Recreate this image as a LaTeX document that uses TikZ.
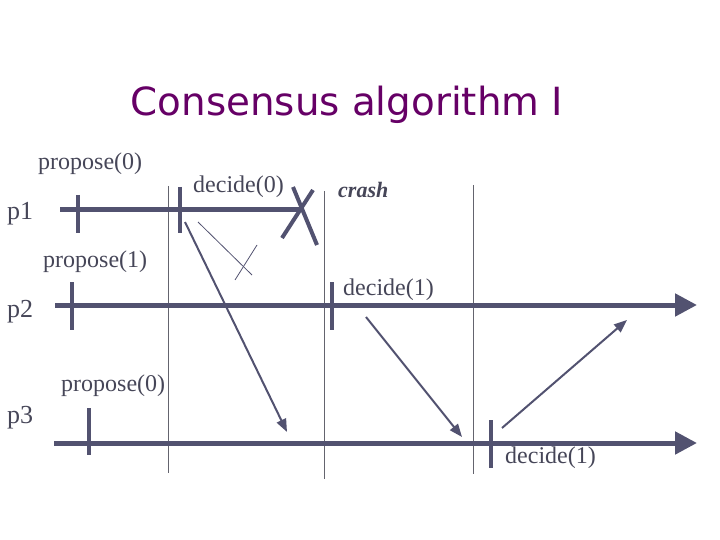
\documentclass[tikz,border=0pt]{standalone}
\usepackage{fontspec}
\setmainfont{Liberation Serif}
\newfontfamily\titlefont{DejaVu Sans}
\usetikzlibrary{arrows.meta}
\definecolor{linecol}{RGB}{82,82,112}
\definecolor{textcol}{RGB}{70,70,88}
\definecolor{gridcol}{RGB}{100,100,110}
\definecolor{titlecol}{RGB}{102,0,102}

\begin{document}
\begin{tikzpicture}[x=1pt, y=-1pt, font=\fontsize{24}{28}\selectfont, text=textcol,
  lbl/.style={anchor=base west, inner sep=0pt},
  proclbl/.style={lbl, font=\fontsize{26}{30}\selectfont},
  procline/.style={linecol, line width=5pt},
  tickmark/.style={linecol, line width=4pt},
  round/.style={gridcol, line width=0.8pt},
  msgline/.style={linecol, line width=2pt, -{Triangle[length=13pt,width=10pt]}},
  lostline/.style={linecol, line width=0.8pt}]
\useasboundingbox (0,0) rectangle (720,540);
\node[anchor=base, inner sep=0pt, text=titlecol, font=\titlefont\fontsize{38.8}{42}\selectfont]
  (title) at (347,116) {Consensus algorithm I};
% round boundaries
\foreach \x/\ya/\yb in {168/186/473, 324/191/479, 473/185/474}
  \draw[round] (\x,\ya) -- (\x,\yb);
% process lines
\coordinate (p1s) at (60,210);  \coordinate (crash) at (303,210);
\coordinate (p2s) at (55,305);  \coordinate (p2e) at (697,305);
\coordinate (p3s) at (54,443);  \coordinate (p3e) at (697,443);
\draw[procline] (p1s) -- (crash);
\draw[procline, -{Triangle[length=22pt,width=22pt]}] (p2s) -- (p2e);
\draw[procline, -{Triangle[length=22pt,width=22pt]}] (p3s) -- (p3e);
% events
\foreach \name/\x/\ya/\yb in {pr1/78/195/233, dc1/180/187/233, pr2/72/282/330,
    dc2/332/282/330, pr3/89/408/455, dc3/491/420/468} {
  \coordinate (\name t) at (\x,\ya);
  \coordinate (\name b) at (\x,\yb);
  \draw[tickmark] (\name t) -- (\name b);
}
% crash of p1
\coordinate (xa) at (293,187); \coordinate (xb) at (317,245);
\coordinate (xc) at (282,238); \coordinate (xd) at (313,190);
\draw[linecol, line width=4pt] (xa) -- (xb);
\draw[linecol, line width=4pt] (xc) -- (xd);
% labels
\node[proclbl] (p1) at (7,220) {p1};
\node[proclbl] (p2) at (7,317) {p2};
\node[proclbl] (p3) at (7,423) {p3};
\node[lbl] (prop1) at (38,170) {propose(0)};
\node[lbl] (prop2) at (43,267) {propose(1)};
\node[lbl] (prop3) at (61,391) {propose(0)};
\node[lbl] (dec1) at (193,193) {decide(0)};
\node[lbl] (dec2) at (343,295) {decide(1)};
\node[lbl] (dec3) at (505,463) {decide(1)};
\node[lbl, font=\fontsize{22}{24}\selectfont\bfseries\itshape] (crashlbl) at (338,197) {crash};
% messages
\coordinate (m1s) at (185,222); \coordinate (m1e) at (287,432);
\coordinate (m2s) at (366,317); \coordinate (m2e) at (462,437);
\coordinate (m3s) at (502,428); \coordinate (m3e) at (627,320);
\draw[msgline] (m1s) -- (m1e);
\draw[msgline] (m2s) -- (m2e);
\draw[msgline] (m3s) -- (m3e);
% lost message
\coordinate (ls) at (198,222); \coordinate (le) at (252,275);
\coordinate (lxa) at (235,280); \coordinate (lxb) at (257,245);
\draw[lostline] (ls) -- (le);
\draw[lostline] (lxa) -- (lxb);
\end{tikzpicture}
\end{document}
